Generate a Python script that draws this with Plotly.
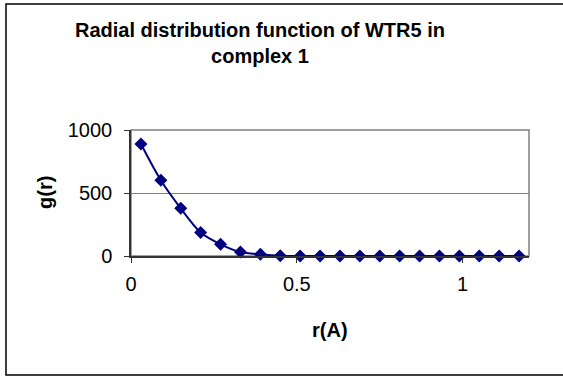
import plotly.graph_objects as go

# Data
r_values = [0.03, 0.09, 0.15, 0.21, 0.27, 0.33, 0.39, 0.45, 0.51, 0.57,
            0.63, 0.69, 0.75, 0.81, 0.87, 0.93, 0.99, 1.05, 1.11, 1.17]
g_values = [889, 601, 378, 186, 93, 32, 13, 1, 0, 0,
            0, 0, 0, 0, 0, 0, 0, 0, 0, 0]
x_ticks = [0, 0.5, 1]
y_ticks = [0, 500, 1000]

W, H = 563, 376
L, R, T, B = 131, 34, 130, 120
PW, PH = W - L - R, H - T - B

def px(x):
    return (x - L) / PW

def py(y):
    return (H - B - y) / PH

FONT = "Arial, 'Liberation Sans', sans-serif"

fig = go.Figure()
fig.add_trace(go.Scatter(
    x=r_values, y=g_values, mode="lines+markers",
    line=dict(color="#000080", width=2, shape="spline", smoothing=0.8),
    marker=dict(symbol="diamond", size=10, color="#000080"),
    showlegend=False, cliponaxis=False,
))

fig.update_layout(
    width=W, height=H,
    margin=dict(l=L, r=R, t=T, b=B),
    paper_bgcolor="white", plot_bgcolor="white",
    font=dict(family=FONT, size=20, color="black"),
    xaxis=dict(range=[0, 1.2], tickvals=x_ticks, ticktext=["0", "0.5", "1"],
               showgrid=False, zeroline=False, showline=True, linecolor="#333333",
               linewidth=1.5, ticks="outside", ticklen=5, tickcolor="#333333",
               ticklabelstandoff=4, tickfont=dict(size=20, family=FONT)),
    yaxis=dict(range=[0, 1000], tickvals=y_ticks, ticktext=["0", "500", "1000"],
               showgrid=True, gridcolor="#808080", gridwidth=1, zeroline=False,
               showline=True, linecolor="#333333", linewidth=1.5,
               ticks="outside", ticklen=5, tickcolor="#333333",
               ticklabelstandoff=8, tickfont=dict(size=20, family=FONT)),
    shapes=[
        dict(type="rect", xref="paper", yref="paper", x0=0, x1=1, y0=0, y1=1,
             line=dict(color="#808080", width=1.5), layer="below"),
        dict(type="rect", xref="paper", yref="paper",
             x0=px(6), x1=px(570), y0=py(375), y1=py(4),
             line=dict(color="black", width=1.5)),
    ],
    annotations=[
        dict(text="<b>Radial distribution function of WTR5 in<br>complex 1</b>",
             xref="paper", yref="paper", x=px(260), y=py(43),
             xanchor="center", yanchor="middle", showarrow=False,
             font=dict(size=20, family=FONT)),
        dict(text="<b>g(r)</b>", xref="paper", yref="paper", x=px(45), y=py(193),
             xanchor="center", yanchor="middle", textangle=-90, showarrow=False,
             font=dict(size=20, family=FONT)),
        dict(text="<b>r(A)</b>", xref="paper", yref="paper", x=px(330), y=py(330),
             xanchor="center", yanchor="middle", showarrow=False,
             font=dict(size=20, family=FONT)),
    ],
)

fig.write_html("out.html")
